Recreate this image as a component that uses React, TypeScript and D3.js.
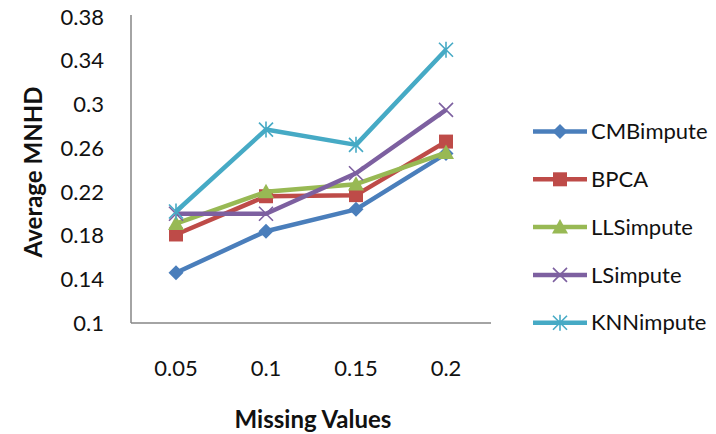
import React from "react";
import * as d3 from "d3";

const categories = ["0.05", "0.1", "0.15", "0.2"];
const yTicks = [0.1, 0.14, 0.18, 0.22, 0.26, 0.3, 0.34, 0.38];
const yTickLabels = ["0.1", "0.14", "0.18", "0.22", "0.26", "0.3", "0.34", "0.38"];

const seriesNames = ["CMBimpute", "BPCA", "LLSimpute", "LSimpute", "KNNimpute"];
const seriesColors = ["#4a7ebb", "#be4b48", "#98b954", "#7d60a0", "#46aac5"];
const seriesMarkers = ["diamond", "square", "triangle", "cross", "star"];

const cmbValues = [0.146, 0.184, 0.204, 0.255];
const bpcaValues = [0.181, 0.216, 0.217, 0.266];
const llsValues = [0.191, 0.22, 0.227, 0.256];
const lsValues = [0.2, 0.2, 0.237, 0.295];
const knnValues = [0.202, 0.277, 0.263, 0.35];

const seriesValues = [cmbValues, bpcaValues, llsValues, lsValues, knnValues];

const W = 716;
const H = 434;
const plot = { left: 131, right: 491, top: 17, bottom: 323 };
const FONT = "Lato, 'Open Sans', sans-serif";

function Marker({ type, x, y, color }: { type: string; x: number; y: number; color: string }) {
  if (type === "diamond") {
    const s = 7.5;
    return <path d={`M${x},${y - s}L${x + s},${y}L${x},${y + s}L${x - s},${y}Z`} fill={color} />;
  }
  if (type === "square") {
    const s = 7;
    return <rect x={x - s} y={y - s} width={2 * s} height={2 * s} fill={color} />;
  }
  if (type === "triangle") {
    const s = 8;
    return <path d={`M${x},${y - s}L${x + s},${y + s * 0.8}L${x - s},${y + s * 0.8}Z`} fill={color} />;
  }
  if (type === "cross") {
    const s = 7;
    return (
      <path
        d={`M${x - s},${y - s}L${x + s},${y + s}M${x - s},${y + s}L${x + s},${y - s}`}
        stroke={color}
        strokeWidth={1.6}
        fill="none"
      />
    );
  }
  const s = 7;
  return (
    <path
      d={`M${x - s},${y - s}L${x + s},${y + s}M${x - s},${y + s}L${x + s},${y - s}M${x},${y - s - 1}L${x},${y + s + 1}`}
      stroke={color}
      strokeWidth={1.6}
      fill="none"
    />
  );
}

export default function App() {
  const x = d3.scaleBand<string>().domain(categories).range([plot.left, plot.right]);
  const y = d3.scaleLinear().domain([0.1, 0.38]).range([plot.bottom, plot.top]);
  const cx = (c: string) => (x(c) as number) + x.bandwidth() / 2;

  const line = d3
    .line<number>()
    .x((_, i) => cx(categories[i]))
    .y((d) => y(d));

  const legendX = 533;
  const legendY0 = 131.5;
  const legendStep = 47.8;

  return (
    <svg
      width={W}
      height={H}
      style={{ position: "absolute", left: 0, top: 0, background: "#fff" }}
      fontFamily={FONT}
    >
      {/* axes */}
      <line x1={plot.left} x2={plot.left} y1={plot.top - 2} y2={plot.bottom} stroke="#868686" strokeWidth={1.5} />
      <line x1={plot.left} x2={plot.right} y1={plot.bottom} y2={plot.bottom} stroke="#868686" strokeWidth={1.5} />

      {yTicks.map((t, i) => (
        <text key={t} x={104} y={y(t)} dy="0.35em" textAnchor="end" fontSize={22} fill="#111">
          {yTickLabels[i]}
        </text>
      ))}
      {categories.map((c) => (
        <text key={c} x={cx(c)} y={368} dy="0.35em" textAnchor="middle" fontSize={22} fill="#111">
          {c}
        </text>
      ))}

      <text x={313} y={420} dy="0.35em" textAnchor="middle" fontSize={24} fontWeight="bold" fill="#111">
        Missing Values
      </text>
      <text
        transform={`translate(34,172) rotate(-90)`}
        dy="0.35em"
        textAnchor="middle"
        fontSize={24}
        fontWeight="bold"
        fill="#111"
      >
        Average MNHD
      </text>

      {/* series */}
      {seriesValues.map((vals, si) => (
        <g key={seriesNames[si]}>
          <path d={line(vals) || ""} fill="none" stroke={seriesColors[si]} strokeWidth={4.5} strokeLinejoin="round" />
          {vals.map((v, i) => (
            <Marker key={i} type={seriesMarkers[si]} x={cx(categories[i])} y={y(v)} color={seriesColors[si]} />
          ))}
        </g>
      ))}

      {/* legend */}
      {seriesNames.map((name, si) => {
        const ly = legendY0 + si * legendStep;
        return (
          <g key={name}>
            <line x1={legendX} x2={legendX + 54} y1={ly} y2={ly} stroke={seriesColors[si]} strokeWidth={4.5} />
            <Marker type={seriesMarkers[si]} x={legendX + 27} y={ly} color={seriesColors[si]} />
            <text x={legendX + 58} y={ly} dy="0.35em" fontSize={22} fill="#111">
              {name}
            </text>
          </g>
        );
      })}
    </svg>
  );
}
